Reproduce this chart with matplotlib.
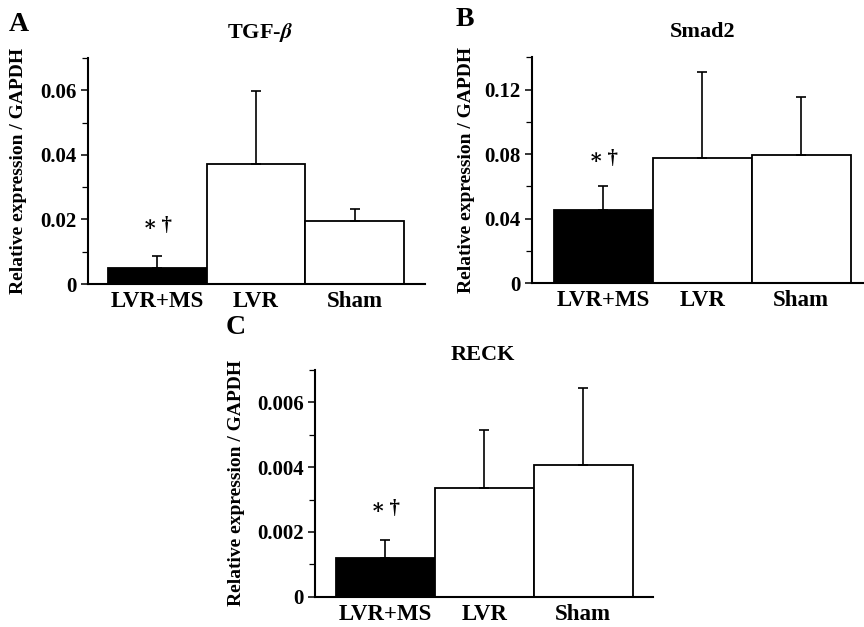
import numpy as np
import matplotlib
matplotlib.use('Agg')
import matplotlib.pyplot as plt
from matplotlib.ticker import MultipleLocator

plt.rcParams['font.family'] = ['Liberation Serif', 'DejaVu Serif']
plt.rcParams['font.weight'] = 'bold'
plt.rcParams['mathtext.fontset'] = 'stix'

# data
groups = ['LVR+MS', 'LVR', 'Sham']
bar_colors = ['black', 'white', 'white']

tgf_mean = [0.0050, 0.0371, 0.0196]
tgf_err = [0.0036, 0.0226, 0.0037]

smad_mean = [0.0457, 0.0779, 0.0794]
smad_err = [0.0146, 0.0529, 0.0359]

reck_mean = [0.00119, 0.00336, 0.00407]
reck_err = [0.00057, 0.00178, 0.00237]

fig = plt.figure(figsize=(8.64, 6.27), dpi=100)

def draw_panel(rect, means, errs, ylim, major, minor, fmt, title, title_x, title_pad,
               xlim, star_y, ylab_x):
    ax = fig.add_axes(rect)
    x = np.arange(len(groups))
    ax.bar(x, means, width=1.0, color=bar_colors, edgecolor='black', linewidth=1.3, zorder=2)
    ax.errorbar(x, means, yerr=[np.zeros(len(errs)), errs], fmt='none', ecolor='black',
                elinewidth=1.2, capsize=3.5, capthick=1.2, zorder=3)
    ax.set_ylim(0, ylim)
    ax.set_xlim(*xlim)
    ax.yaxis.set_major_locator(MultipleLocator(major))
    ax.yaxis.set_minor_locator(MultipleLocator(minor))
    ax.yaxis.set_major_formatter(plt.FuncFormatter(lambda v, p: '0' if v == 0 else fmt % v))
    ax.spines['top'].set_visible(False)
    ax.spines['right'].set_visible(False)
    ax.spines['left'].set_linewidth(1.5)
    ax.spines['bottom'].set_linewidth(1.5)
    ax.tick_params(axis='y', which='major', length=5, width=1.1, labelsize=15, pad=3)
    ax.tick_params(axis='y', which='minor', length=4, width=0.9)
    ax.tick_params(axis='x', length=0, labelsize=16.5, pad=5)
    ax.set_xticks(x)
    ax.set_xticklabels(groups, fontweight='bold')
    for lab in ax.get_yticklabels():
        lab.set_fontweight('bold')
    ax.set_ylabel('Relative expression / GAPDH', fontsize=14, fontweight='bold')
    ax.yaxis.set_label_coords(ylab_x, 0.5)
    ax.set_title(title, fontsize=16, fontweight='bold', x=title_x, pad=title_pad)
    ax.text(0, star_y, '\u2217\u2009\u2020', ha='center', va='bottom', fontsize=15, fontweight='bold')
    return ax

draw_panel([0.1019, 0.547, 0.390, 0.3604], tgf_mean, tgf_err, 0.07, 0.02, 0.01, '%.2f',
           r'TGF-$\mathit{\beta}$', 0.51, 14.5, (-0.70, 2.71), 0.0148, -0.181)
draw_panel([0.6154, 0.5482, 0.3834, 0.3604], smad_mean, smad_err, 0.14, 0.04, 0.02, '%.2f',
           'Smad2', 0.517, 14.5, (-0.725, 2.624), 0.0705, -0.171)
draw_panel([0.3646, 0.0483, 0.3912, 0.3616], reck_mean, reck_err, 0.007, 0.002, 0.001, '%.3f',
           'RECK', 0.497, 7.5, (-0.712, 2.705), 0.0024, -0.207)

fig.text(9 / 864, 1 - 31 / 627, 'A', fontsize=20, fontweight='bold')
fig.text(456 / 864, 1 - 26 / 627, 'B', fontsize=20, fontweight='bold')
fig.text(226 / 864, 1 - 334 / 627, 'C', fontsize=20, fontweight='bold')

fig.savefig('out.png', dpi=100)
